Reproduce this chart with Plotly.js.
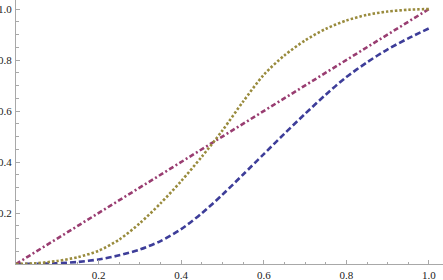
<!DOCTYPE html>
<html>
<head>
<meta charset="utf-8">
<script src="https://cdn.plot.ly/plotly-3.0.1.min.js"></script>
<style>html,body{margin:0;padding:0;background:#fff;}#chart{width:443px;height:280px;}</style>
</head>
<body>
<div id="chart"></div>
<script>
const xs = [0, 0.05, 0.1, 0.15, 0.2, 0.25, 0.3, 0.35, 0.4, 0.45, 0.5, 0.55, 0.6, 0.65, 0.7, 0.75, 0.8, 0.85, 0.9, 0.95, 1.0];
const blueDashed = [0, 0.001, 0.003, 0.008, 0.018, 0.034, 0.057, 0.090, 0.137, 0.199, 0.272, 0.351, 0.431, 0.511, 0.589, 0.664, 0.733, 0.791, 0.842, 0.885, 0.924];
const magentaDotDash = [0, 0.05, 0.1, 0.15, 0.2, 0.25, 0.3, 0.35, 0.4, 0.45, 0.5, 0.55, 0.6, 0.65, 0.7, 0.75, 0.8, 0.85, 0.9, 0.95, 1.0];
const oliveDotted = [0, 0.003, 0.012, 0.027, 0.052, 0.096, 0.160, 0.238, 0.325, 0.421, 0.524, 0.637, 0.742, 0.818, 0.877, 0.922, 0.955, 0.977, 0.990, 0.997, 1.0];
const tickVals = [0.2, 0.4, 0.6, 0.8, 1.0];
const tickText = ["0.2", "0.4", "0.6", "0.8", "1.0"];

const traces = [
  {x: xs, y: blueDashed, mode: 'lines', line: {color: '#3d3d99', width: 2.6, dash: '6px,3px', shape: 'spline', smoothing: 0.8}},
  {x: xs, y: magentaDotDash, mode: 'lines', line: {color: '#993d71', width: 2.6, dash: '5px,2.5px,2px,2.5px'}},
  {x: xs, y: oliveDotted, mode: 'lines', line: {color: '#998b3d', width: 2.6, dash: '2.5px,2px', shape: 'spline', smoothing: 0.8}}
];

const axisCommon = {
  showgrid: false, zeroline: false, showline: true, linecolor: '#a8a8a8', linewidth: 1,
  ticks: 'inside', ticklen: 4, tickcolor: '#a8a8a8', tickwidth: 1,
  tickmode: 'array', tickvals: tickVals, ticktext: tickText,
  tickfont: {family: 'Liberation Serif', size: 11, color: '#222'},
  minor: {dtick: 0.05, ticks: 'inside', ticklen: 2.5, tickcolor: '#a8a8a8', tickwidth: 1},
  ticklabelstandoff: 1
};

const layout = {
  width: 443, height: 280,
  margin: {l: 16, r: 0, t: 0, b: 16, pad: 0},
  paper_bgcolor: '#fff', plot_bgcolor: '#fff',
  showlegend: false,
  xaxis: Object.assign({}, axisCommon, {range: [0, 1.034]}),
  yaxis: Object.assign({}, axisCommon, {range: [0, 1.0353]})
};

Plotly.newPlot('chart', traces, layout, {staticPlot: true, displayModeBar: false});
</script>
</body>
</html>
